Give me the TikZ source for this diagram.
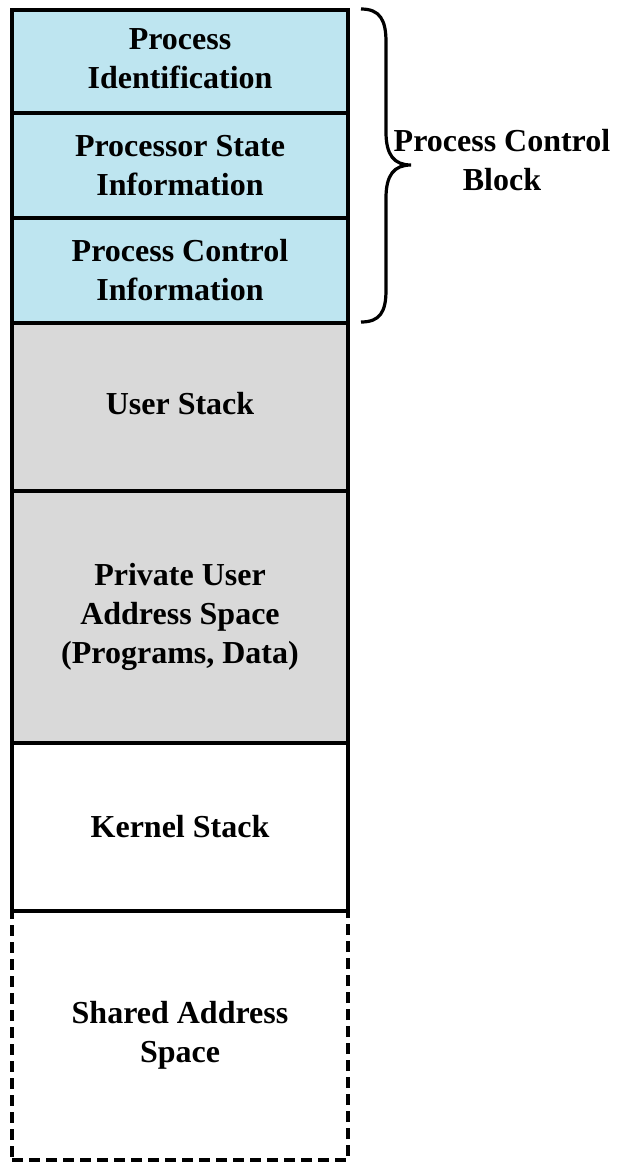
\documentclass[tikz,border=0pt]{standalone}
\usepackage{fontspec}
\setmainfont{Liberation Serif}
\definecolor{pcbblue}{RGB}{190,229,240}
\definecolor{usergray}{RGB}{217,217,217}
\begin{document}
\begin{tikzpicture}[x=1pt,y=-1pt,
  seg/.style={draw=black, line width=3.4pt, minimum width=336pt, inner sep=0pt, outer sep=0pt,
    align=center, font=\fontsize{32}{39}\selectfont\bfseries},
  lbl/.style={align=center, font=\fontsize{32}{39}\selectfont\bfseries, inner sep=0pt},
  bracepath/.style={draw=black, line width=3.2pt}]
\useasboundingbox (0,0) rectangle (621,1164);
\node[seg, fill=pcbblue, minimum height=103pt] (pid) at (180,61.5) {\raisebox{2pt}{\begin{tabular}{@{}c@{}}Process\\Identification\end{tabular}}};
\node[seg, fill=pcbblue, minimum height=105pt] (psi) at (180,165.5) {Processor State\\Information};
\node[seg, fill=pcbblue, minimum height=105pt] (pci) at (180,270.5) {Process Control\\Information};
\node[seg, fill=usergray, minimum height=168pt] (ust) at (180,407) {\raisebox{8pt}{User Stack}};
\node[seg, fill=usergray, minimum height=252pt] (pua) at (180,617) {\raisebox{6pt}{\begin{tabular}{@{}c@{}}Private User\\Address Space\\(Programs, Data)\end{tabular}}};
\node[seg, dashed, dash pattern=on 11pt off 6pt, minimum height=249pt] (sas) at (180,1035.5) {\raisebox{6pt}{\begin{tabular}{@{}c@{}}Shared Address\\Space\end{tabular}}};
\node[seg, fill=white, minimum height=168pt] (kst) at (180,827) {\raisebox{-3pt}{Kernel Stack}};
\coordinate (btop) at (361,9);
\coordinate (btip) at (411,165);
\coordinate (bbot) at (361,322);
\draw[bracepath] (btop) .. controls (380,9) and (386,20) .. (386,42) -- (386,132)
  .. controls (386,155) and (394,165) .. (btip)
  .. controls (394,165) and (386,175) .. (386,198) -- (386,290)
  .. controls (386,312) and (380,322) .. (bbot);
\node[lbl] (pcb) at (502,160) {Process Control\\Block};
\end{tikzpicture}
\end{document}
